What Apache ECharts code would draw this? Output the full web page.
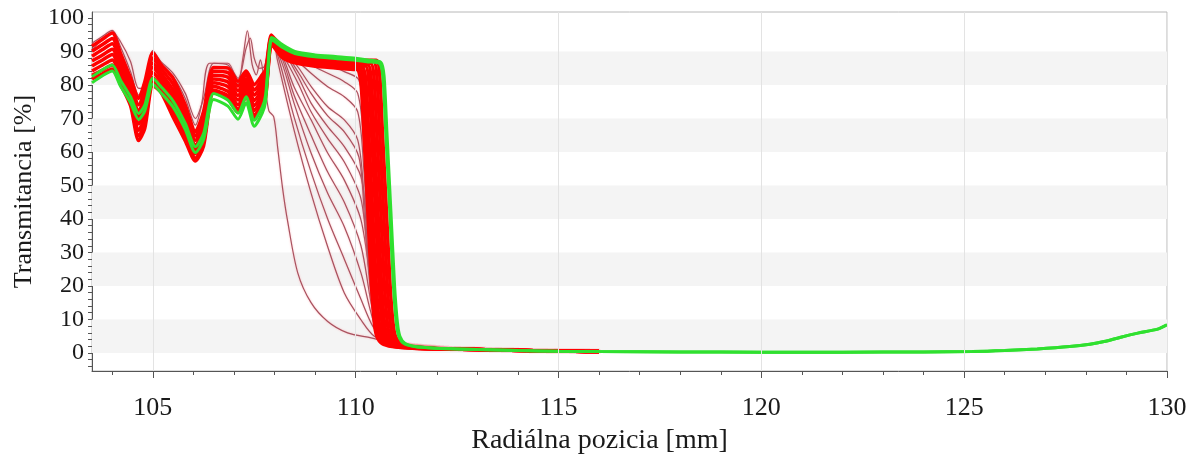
<!DOCTYPE html>
<html>
<head>
<meta charset="utf-8">
<script src="https://cdn.jsdelivr.net/npm/echarts@6/dist/echarts.min.js"></script>
<style>
  html, body { margin: 0; padding: 0; background: #ffffff; }
  #chart { width: 1195px; height: 461px; }
</style>
</head>
<body>
<div id="chart"></div>
<script>
// Axis ticks and labels
const xTickLabels = [105, 110, 115, 120, 125, 130];
const xMinorTicks = [104,105,106,107,108,109,110,111,112,113,114,115,116,117,118,119,120,121,122,123,124,125,126,127,128,129,130];
const yTickLabels = [0, 10, 20, 30, 40, 50, 60, 70, 80, 90, 100];
const yMinorTicks = [-4,-2,0,2,4,6,8,10,12,14,16,18,20,22,24,26,28,30,32,34,36,38,40,42,44,46,48,50,52,54,56,58,60,62,64,66,68,70,72,74,76,78,80,82,84,86,88,90,92,94,96,98,100];
const shadedBands = [[0, 10], [20, 30], [40, 50], [60, 70], [80, 90]];
const gridXLines = [105, 110, 115, 120, 125, 130];

// Radial positions [mm] of the common profile (wavy zone + plateau)
const profileX = [103.5, 103.75, 104.0, 104.2, 104.45, 104.65, 104.8, 105.0, 105.2, 105.5, 105.8, 106.05, 106.25, 106.5, 106.85, 107.1, 107.3, 107.5, 107.7, 107.78, 107.92, 108.0, 108.2, 108.5, 109.0, 109.5, 110.0];

// Red scans: transmittance [%] at profileX
const red0 = [91.6, 93.6, 95.5, 89.6, 82.1, 76.0, 80.9, 89.6, 86.1, 82.0, 74.0, 66.1, 72.1, 85.2, 85.1, 81.1, 84.2, 80.1, 83.1, 84.6, 94.9, 93.9, 91.4, 89.4, 88.4, 87.9, 87.4];
const red1 = [90.1, 92.0, 93.9, 88.2, 80.9, 74.1, 78.8, 88.1, 84.9, 80.3, 72.4, 64.8, 70.5, 84.1, 83.7, 79.7, 83.1, 78.5, 81.7, 83.4, 94.5, 93.5, 90.9, 89.0, 88.0, 87.5, 87.0];
const red2 = [88.6, 90.5, 92.3, 86.8, 79.6, 72.2, 76.7, 86.6, 83.6, 78.5, 70.8, 63.5, 69.0, 82.9, 82.3, 78.3, 81.9, 77.0, 80.3, 82.1, 94.0, 93.0, 90.4, 88.5, 87.5, 87.0, 86.5];
const red3 = [87.2, 88.9, 90.7, 85.4, 78.4, 70.3, 74.6, 85.2, 82.4, 76.8, 69.2, 62.1, 67.4, 81.8, 80.9, 76.9, 80.8, 75.4, 78.9, 80.9, 93.6, 92.6, 89.9, 88.1, 87.1, 86.6, 86.1];
const red4 = [85.7, 87.4, 89.1, 84.0, 77.1, 68.4, 72.5, 83.7, 81.1, 75.0, 67.6, 60.8, 65.9, 80.7, 79.5, 75.5, 79.7, 73.9, 77.5, 79.6, 93.2, 92.2, 89.4, 87.7, 86.7, 86.2, 85.7];
const red5 = [84.2, 85.9, 87.5, 82.6, 75.8, 66.5, 70.4, 82.2, 79.8, 73.3, 66.0, 59.5, 64.4, 79.6, 78.1, 74.1, 78.6, 72.4, 76.1, 78.3, 92.8, 91.8, 88.9, 87.3, 86.3, 85.8, 85.3];
const red6 = [82.9, 84.4, 86.0, 81.3, 74.7, 64.8, 68.5, 80.9, 78.7, 71.6, 64.5, 58.2, 62.9, 78.5, 76.8, 72.8, 77.5, 70.9, 74.8, 77.2, 92.4, 91.4, 88.5, 86.9, 85.9, 85.4, 84.9];
const red7 = [81.8, 83.3, 84.8, 80.3, 73.8, 63.4, 67.0, 79.8, 77.8, 70.4, 63.3, 57.3, 61.8, 77.7, 75.8, 71.8, 76.7, 69.8, 73.8, 76.3, 92.1, 91.1, 88.1, 86.6, 85.6, 85.1, 84.6];

// Red scans: edge drop [x, %]
const redDrop0 = [[110.51, 87.4], [110.59, 83.4], [110.66, 66], [110.76, 42], [110.85, 20], [110.92, 9], [110.98, 5], [111.11, 2.8], [111.36, 1.9], [111.86, 1.4]];
const redDrop1 = [[110.44, 87.0], [110.52, 83.0], [110.59, 66], [110.69, 42], [110.78, 20], [110.85, 9], [110.91, 5], [111.04, 2.8], [111.29, 1.9], [111.79, 1.4]];
const redDrop2 = [[110.37, 86.5], [110.45, 82.5], [110.52, 66], [110.62, 42], [110.71, 20], [110.78, 9], [110.84, 5], [110.97, 2.8], [111.22, 1.9], [111.72, 1.4]];
const redDrop3 = [[110.30, 86.1], [110.38, 82.1], [110.45, 66], [110.55, 42], [110.64, 20], [110.71, 9], [110.77, 5], [110.90, 2.8], [111.15, 1.9], [111.65, 1.4]];
const redDrop4 = [[110.24, 85.7], [110.32, 81.7], [110.39, 66], [110.49, 42], [110.58, 20], [110.65, 9], [110.71, 5], [110.84, 2.8], [111.09, 1.9], [111.59, 1.4]];
const redDrop5 = [[110.17, 85.3], [110.25, 81.3], [110.32, 66], [110.42, 42], [110.51, 20], [110.58, 9], [110.64, 5], [110.77, 2.8], [111.02, 1.9], [111.52, 1.4]];
const redDrop6 = [[110.11, 84.9], [110.19, 80.9], [110.26, 66], [110.36, 42], [110.45, 20], [110.52, 9], [110.58, 5], [110.71, 2.8], [110.96, 1.9], [111.46, 1.4]];
const redDrop7 = [[110.05, 84.6], [110.13, 80.6], [110.20, 66], [110.30, 42], [110.39, 20], [110.46, 9], [110.52, 5], [110.65, 2.8], [110.90, 1.9], [111.40, 1.4]];
const redTail = [[112.2, 1.2], [113.0, 1.0], [113.8, 0.8], [114.6, 0.6], [115.4, 0.5], [116.0, 0.4]];

// Green (latest) scans
const green0 = [82.5, 84.5, 86.0, 81.5, 76.5, 71.5, 74.0, 82.0, 79.5, 75.2, 68.5, 61.6, 65.5, 77.5, 75.5, 71.6, 76.5, 69.5, 73.5, 77.0, 94.2, 93.8, 92.0, 90.0, 89.0, 88.5, 88.0];
const green1 = [80.7, 82.7, 84.2, 79.7, 74.7, 69.7, 72.2, 80.2, 77.7, 73.4, 66.7, 59.8, 63.7, 75.7, 73.7, 69.8, 74.7, 67.7, 71.7, 75.2, 93.4, 93.0, 91.2, 89.4, 88.4, 87.9, 87.4];
const greenDrop0 = [[110.3, 87.5], [110.62, 86.8], [110.70, 82.8], [110.77, 66], [110.87, 42], [110.96, 20], [111.03, 9], [111.09, 5], [111.22, 2.8], [111.47, 1.9], [111.97, 1.4]];
const greenDrop1 = [[110.3, 86.9], [110.59, 86.4], [110.67, 82.4], [110.74, 66], [110.84, 42], [110.93, 20], [111.00, 9], [111.06, 5], [111.19, 2.8], [111.44, 1.9], [111.94, 1.4]];
const greenTail = [[112.5, 1.2], [113, 1.0], [114, 0.7], [115, 0.5], [116, 0.4], [118, 0.3], [120, 0.2], [122, 0.2], [124, 0.3], [125.2, 0.4], [126, 0.7], [126.8, 1.2], [127.6, 1.9], [128.1, 2.6], [128.45, 3.4], [128.86, 4.7], [129.28, 5.9], [129.77, 7.1], [130, 8.4]];

// Early scans (thin lines) whose edge moves in from the left
const thin1 = [[103.5, 90.5], [103.75, 93.5], [104.0, 95.8], [104.2, 93], [104.45, 87], [104.65, 79], [104.8, 79.5], [105.0, 87.5], [105.2, 86], [105.5, 82.5], [105.8, 76], [106.05, 68], [106.2, 74], [106.4, 86.5], [106.85, 86.5], [107.1, 80.5], [107.22, 88], [107.33, 96.2], [107.45, 86], [107.55, 83], [107.65, 87.5], [107.76, 80], [107.86, 72.3], [107.98, 70.5], [108.08, 61], [108.2, 49], [108.32, 39.5], [108.57, 24], [108.9, 15], [109.31, 9.4], [109.8, 6], [110.38, 4.5], [110.9, 3]];
const thin2 = [[103.5, 92.5], [103.75, 94.5], [104.0, 96.3], [104.2, 91.5], [104.45, 84], [104.65, 77], [104.8, 81], [105.0, 90.3], [105.2, 87], [105.5, 83.5], [105.8, 77.5], [106.05, 70], [106.25, 76], [106.5, 86.5], [106.85, 86], [107.1, 82], [107.3, 91], [107.4, 94], [107.5, 88], [107.62, 85], [107.75, 85.5], [107.92, 93.5], [108.0, 92], [108.07, 87.5], [108.48, 66.6], [108.9, 47.7], [109.31, 31.7], [109.72, 17.9], [110.13, 9.9], [110.46, 5], [110.9, 3.2]];
const thin3 = [[107.92, 93.8], [108.1, 88], [108.48, 70.5], [108.9, 54], [109.31, 40], [109.72, 28], [110.13, 16], [110.42, 8], [110.7, 4.2], [111.0, 3]];
const thin4 = [[107.92, 94], [108.2, 86], [108.48, 74.6], [108.9, 59.7], [109.31, 47.7], [109.72, 37.7], [110.13, 23.9], [110.38, 11.9], [110.55, 6], [110.9, 3.3]];
const thin5 = [[107.92, 94], [108.2, 87.5], [108.48, 77], [108.9, 65], [109.31, 54], [109.72, 45], [110.13, 32], [110.38, 15], [110.55, 7], [110.85, 3.5]];
const thin6 = [[107.92, 94], [108.2, 88.5], [108.48, 79.5], [108.9, 69.6], [109.31, 59.7], [109.72, 51.6], [110.13, 39.7], [110.38, 19.9], [110.52, 9], [110.75, 4.5], [111.1, 2.8]];
const thin7 = [[107.92, 94], [108.25, 88], [108.6, 80], [108.9, 72], [109.31, 64], [109.72, 57], [110.13, 46], [110.3, 28], [110.47, 11], [110.65, 5], [110.95, 3]];
const thin8 = [[107.92, 94], [108.3, 88.5], [108.6, 82], [108.9, 74.6], [109.31, 67.6], [109.72, 61.6], [110.13, 52.6], [110.3, 35], [110.45, 14], [110.62, 6], [110.95, 3.2]];
const thin9 = [[107.92, 94], [108.3, 89], [108.6, 83.5], [108.9, 77.5], [109.31, 70.8], [109.72, 66], [110.08, 58.5], [110.22, 40], [110.38, 17], [110.55, 7], [110.85, 3.4]];
const thin10 = [[107.92, 94], [108.3, 89.5], [108.6, 85], [108.9, 79.6], [109.31, 73.5], [109.72, 69.6], [110.05, 63.6], [110.2, 48], [110.35, 22], [110.5, 9], [110.8, 3.8], [111.1, 2.6]];
const thin11 = [[107.92, 94.2], [108.4, 89], [108.9, 83.5], [109.31, 79.5], [109.72, 76.5], [110.05, 72], [110.2, 55], [110.36, 25], [110.5, 10], [110.8, 4], [111.1, 2.7]];
const thin12 = [[107.92, 94.2], [108.4, 89.5], [108.9, 86], [109.31, 83.5], [109.72, 81], [110.05, 77.5], [110.2, 62], [110.37, 28], [110.52, 10], [110.8, 4], [111.1, 2.7]];
const thin13 = [[107.92, 94.3], [108.4, 90], [108.9, 87.5], [109.31, 86], [109.72, 84], [110.08, 81.5], [110.22, 66], [110.38, 30], [110.53, 10], [110.8, 4.2], [111.1, 2.7]];
const thin14 = [[107.92, 94.3], [108.4, 90.2], [108.9, 88.2], [109.31, 87.2], [109.72, 86.2], [110.08, 84.5], [110.24, 70], [110.4, 33], [110.55, 11], [110.8, 4.5], [111.1, 2.8]];
const thin15 = [[107.92, 94.4], [108.4, 90.4], [108.9, 88.6], [109.31, 87.8], [109.72, 87.1], [110.1, 86], [110.26, 72], [110.42, 35], [110.57, 12], [110.82, 4.6], [111.1, 2.8]];
const thinTail = [[111.5, 2.0], [112.2, 1.4], [113, 1.1], [114, 0.8], [115, 0.6], [116, 0.5]];

const FONT = '"Liberation Serif", "Times New Roman", serif';
const TEXT = '#1a1a1a';
const AXIS = '#555555';

function zip(xs, ys) { return xs.map(function (x, i) { return [x, ys[i]]; }); }

const thinScans = [thin1, thin2, thin3, thin4, thin5, thin6, thin7, thin8, thin9, thin10, thin11, thin12, thin13, thin14, thin15];
const redScans = [
  [red7, redDrop7], [red6, redDrop6], [red5, redDrop5], [red4, redDrop4],
  [red3, redDrop3], [red2, redDrop2], [red1, redDrop1], [red0, redDrop0]
];
const greenScans = [[green1, greenDrop1], [green0, greenDrop0]];

const series = [];

// background: shaded bands and vertical grid lines
series.push({
  type: 'line', data: [], z: 0, silent: true, animation: false,
  markArea: {
    silent: true,
    itemStyle: { color: '#f4f4f4' },
    data: shadedBands.map(function (b) { return [{ yAxis: b[0] }, { yAxis: b[1] }]; })
  },
  markLine: {
    silent: true, symbol: 'none', label: { show: false },
    lineStyle: { color: '#e3e3e3', width: 1, type: 'solid' },
    data: gridXLines.map(function (v) { return { xAxis: v }; })
  }
});

thinScans.forEach(function (pts) {
  series.push({
    type: 'line', data: pts.concat(thinTail), showSymbol: false, smooth: 0.3,
    z: 2, animation: false, silent: true,
    lineStyle: { color: '#a8525f', width: 1.2, shadowColor: 'rgba(255,120,130,0.55)', shadowBlur: 2 }
  });
});

redScans.forEach(function (s) {
  series.push({
    type: 'line', data: zip(profileX, s[0]).concat(s[1], redTail), showSymbol: false, smooth: 0.25,
    z: 3, animation: false, silent: true,
    lineStyle: { color: '#ff0000', width: 3.5 }
  });
});

greenScans.forEach(function (s) {
  series.push({
    type: 'line', data: zip(profileX, s[0]).concat(s[1], greenTail), showSymbol: false, smooth: 0.25,
    z: 4, animation: false, silent: true,
    lineStyle: { color: '#2fe02f', width: 3 }
  });
});

const chart = echarts.init(document.getElementById('chart'), null, { renderer: 'canvas' });
chart.setOption({
  backgroundColor: '#ffffff',
  animation: false,
  grid: { left: 92, right: 28, top: 12, bottom: 90, show: true, borderColor: '#b8b8b8', borderWidth: 1, backgroundColor: 'transparent' },
  xAxis: [
    {
      type: 'value', min: 103.5, max: 130, position: 'bottom',
      axisLine: { show: true, onZero: false, lineStyle: { color: AXIS, width: 1 } },
      axisTick: { show: true, customValues: xMinorTicks, length: 4, lineStyle: { color: AXIS } },
      axisLabel: { show: false },
      splitLine: { show: false }
    },
    {
      type: 'value', min: 103.5, max: 130, position: 'bottom',
      axisLine: { show: false, onZero: false },
      axisTick: { show: true, customValues: xTickLabels, length: 7, lineStyle: { color: AXIS } },
      axisLabel: { customValues: xTickLabels, fontFamily: FONT, fontSize: 26, color: TEXT, margin: 24 },
      splitLine: { show: false },
      name: 'Radiálna pozicia [mm]', nameLocation: 'middle', nameGap: 56,
      nameTextStyle: { fontFamily: FONT, fontSize: 28, color: TEXT, padding: [0, 60, 0, 0] }
    }
  ],
  yAxis: {
    type: 'value', min: -5.4, max: 101.8,
    axisLine: { show: true, onZero: false, lineStyle: { color: AXIS, width: 1 } },
    axisTick: { show: true, customValues: yMinorTicks, length: 4, lineStyle: { color: AXIS } },
    axisLabel: { customValues: yTickLabels, fontFamily: FONT, fontSize: 24, color: TEXT, margin: 8 },
    splitLine: { show: false },
    name: 'Transmitancia [%]', nameLocation: 'middle', nameRotate: 90, nameGap: 52,
    nameTextStyle: { fontFamily: FONT, fontSize: 26, color: TEXT }
  },
  series: series
});
</script>
</body>
</html>
